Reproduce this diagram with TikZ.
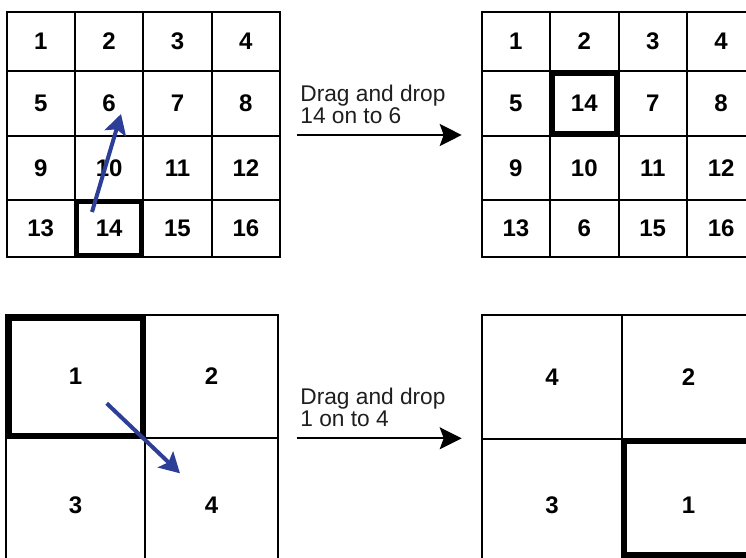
\documentclass[tikz,border=0pt]{standalone}
\usepackage{fontspec}
\setmainfont{Liberation Sans}
\usetikzlibrary{arrows.meta}
\definecolor{dragblue}{RGB}{45,62,150}
\definecolor{msgtext}{RGB}{30,30,30}

\begin{document}
\begin{tikzpicture}[x=1pt, y=-1pt,
    cell/.style={draw, line width=2pt, inner sep=0, outer sep=0,
        font=\fontsize{24}{28}\selectfont\bfseries},
    pick/.style={draw, line width=#1},
    drag/.style={dragblue, line width=4pt,
        -{Stealth[length=20pt, width=22pt, inset=4pt]}},
    move/.style={line width=2pt, -{Stealth[length=22pt, width=22pt, inset=4pt]}},
    msg/.style={anchor=north west, inner sep=0, align=left, text=msgtext,
        font=\fontsize{22.7}{20}\selectfont}]

    \useasboundingbox (0,0) rectangle (746,557);
    \clip (0,0) rectangle (746,557);

    % Top left: 4x4 board before the move
    \foreach \y/\h/\row in {41.25/59.5/{1,2,3,4}, 103.25/64.5/{5,6,7,8},
                            167.75/64.5/{9,10,11,12}, 228.35/56.7/{13,14,15,16}} {
        \foreach \lab [count=\c from 0] in \row {
            \node[cell, minimum width=68.4pt, minimum height=\h pt]
                (tl\lab) at ({40.7+68.4*\c}, \y) {\lab};
        }
    }
    \draw[pick=4pt] ([shift={(2pt,-2pt)}]tl14.north west)
        rectangle ([shift={(-2pt,2pt)}]tl14.south east);

    % Top right: 4x4 board after the move
    \foreach \y/\h/\row in {41.25/59.5/{1,2,3,4}, 103.25/64.5/{5,14,7,8},
                            167.75/64.5/{9,10,11,12}, 228.35/56.7/{13,6,15,16}} {
        \foreach \lab [count=\c from 0] in \row {
            \node[cell, minimum width=68.4pt, minimum height=\h pt]
                (tr\lab) at ({515.9+68.4*\c}, \y) {\lab};
        }
    }
    \draw[pick=4.5pt] ([shift={(2.25pt,-2.25pt)}]tr14.north west)
        rectangle ([shift={(-2.25pt,2.25pt)}]tr14.south east);

    % Bottom left: 2x2 board before the move
    \node[cell, minimum width=139pt, minimum height=123pt] (bl1) at (75.5, 376.5) {1};
    \node[cell, minimum width=133pt, minimum height=123pt] (bl2) at (211.5, 376.5) {2};
    \node[cell, minimum width=139pt, minimum height=134pt] (bl3) at (75.5, 505) {3};
    \node[cell, minimum width=133pt, minimum height=134pt] (bl4) at (211.5, 505) {4};
    \draw[pick=6pt] ([shift={(2.5pt,-2.5pt)}]bl1.north west)
        rectangle ([shift={(-2.5pt,2.5pt)}]bl1.south east);

    % Bottom right: 2x2 board after the move
    \node[cell, minimum width=140pt, minimum height=124pt] (br4) at (552, 377) {4};
    \node[cell, minimum width=133pt, minimum height=124pt] (br2) at (688.5, 377) {2};
    \node[cell, minimum width=140pt, minimum height=133pt] (br3) at (552, 505.5) {3};
    \node[cell, minimum width=133pt, minimum height=133pt] (br1) at (688.5, 505.5) {1};
    \draw[pick=5.5pt] ([shift={(2pt,-2pt)}]br1.north west) rectangle (770, 555);

    % drag gestures
    \coordinate (from14) at (92, 212);
    \coordinate (to6) at (121, 114);
    \draw[drag] (from14) -- (to6);
    \coordinate (from1) at (106.7, 403.3);
    \coordinate (to4) at (180, 473.3);
    \draw[drag] (from1) -- (to4);

    % steps between the boards
    \node[msg] (swap1) at (300.2, 85) {Drag and drop\\14 on to 6};
    \coordinate (go1) at (296.7, 135);
    \coordinate (end1) at (461.7, 135);
    \draw[move] (go1) -- (end1);

    \node[msg] (swap2) at (300.2, 388.3) {Drag and drop\\1 on to 4};
    \coordinate (go2) at (296.7, 438.3);
    \coordinate (end2) at (461.7, 438.3);
    \draw[move] (go2) -- (end2);

\end{tikzpicture}
\end{document}
